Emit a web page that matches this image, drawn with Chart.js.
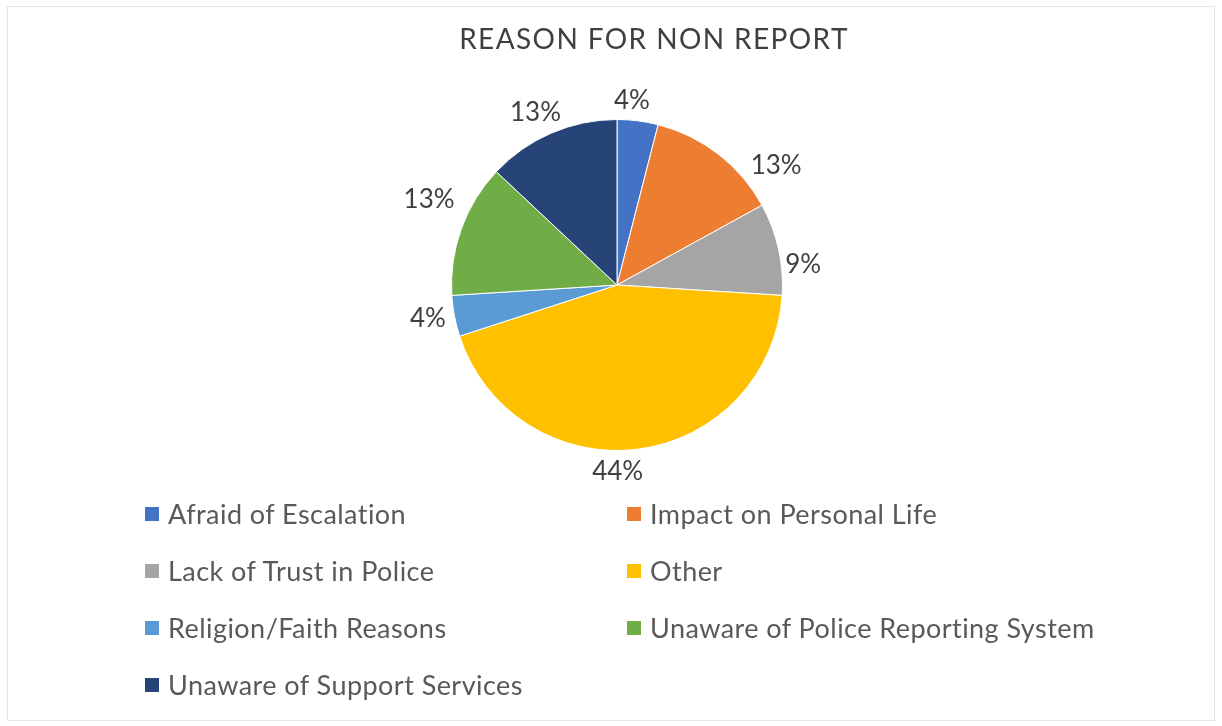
<!DOCTYPE html>
<html>
<head>
<meta charset="utf-8">
<title>Reason for non report</title>
<script src="https://cdn.jsdelivr.net/npm/chart.js@4.4.1/dist/chart.umd.min.js"></script>
<style>
	html, body { margin: 0; padding: 0; background: #fff; }
	#wrap { position: relative; width: 1222px; height: 726px; overflow: hidden; font-family: Lato, 'Open Sans', sans-serif; }
	#frame { position: absolute; left: 7px; top: 6px; width: 1206px; height: 713px; border: 1px solid #e6e6e6; }
	#reasonChart { position: absolute; left: 0; top: 0; }
	#title { position: absolute; left: 354px; width: 600px; top: 21px; text-align: center; font-size: 28px; color: #404040; letter-spacing: 1.4px; }
	#legend { position: absolute; left: 145px; top: 485px; display: grid; grid-template-columns: 482px 482px; grid-auto-rows: 57px; }
	#legend .item { display: flex; align-items: center; font-size: 27px; letter-spacing: 0.45px; color: #595959; white-space: nowrap; }
	#legend .box { width: 14px; height: 14px; margin-right: 9px; flex: none; }
</style>
</head>
<body>
<div id="wrap">
	<div id="frame"></div>
	<canvas id="reasonChart" width="1222" height="726"></canvas>
	<div id="title">REASON FOR NON REPORT</div>
	<div id="legend"></div>
</div>
<script>
;(function (window, document, undefined) {
	'use strict';

	// survey answers, share of respondents in percent
	let reasons = [
		'Afraid of Escalation',
		'Impact on Personal Life',
		'Lack of Trust in Police',
		'Other',
		'Religion/Faith Reasons',
		'Unaware of Police Reporting System',
		'Unaware of Support Services'
	];
	let shares = [4, 13, 9, 44, 4, 13, 13];
	let colours = ['#4472C4', '#ED7D31', '#A5A5A5', '#FFC000', '#5B9BD5', '#70AD47', '#264478'];

	// percentage text outside each slice
	let sliceLabels = {
		id: 'sliceLabels',
		afterDatasetsDraw: function (chart, args, opts) {
			let ctx	= chart.ctx;
			let meta	= chart.getDatasetMeta(0);

			ctx.save();
			ctx.font = opts.font;
			ctx.fillStyle = opts.color;
			ctx.textAlign = 'center';
			ctx.textBaseline = 'middle';

			meta.data.forEach(function (arc, i) {
				let p = arc.getProps(['x', 'y', 'startAngle', 'endAngle', 'outerRadius'], true);
				let a = (p.startAngle + p.endAngle) / 2 + (opts.spread[i] || 0) * Math.PI / 180;
				let text = shares[i] + '%';
				let w = ctx.measureText(text).width;
				let cos = Math.cos(a);
				let sin = Math.sin(a);
				let d = p.outerRadius + opts.gap[i] + Math.abs(cos) * w / 2 + Math.abs(sin) * opts.textHeight / 2;

				ctx.fillText(text, p.x + cos * d, p.y + sin * d + opts.shiftY);
			});

			ctx.restore();
		}
	};

	let ctx = document.getElementById('reasonChart').getContext('2d');

	let reasonChart = new Chart(ctx, {
		type: 'pie',
		data: {
			labels: reasons,
			datasets: [{
				data: shares,
				backgroundColor: colours,
				borderColor: '#ffffff',
				borderWidth: 1,
				hoverOffset: 0
			}]
		},
		options: {
			responsive: false,
			animation: false,
			layout: {
				padding: { left: 451, right: 439, top: 118, bottom: 274 }
			},
			plugins: {
				legend: { display: false },
				title: { display: false },
				tooltip: { enabled: false },
				sliceLabels: {
					font: '26px Lato, "Open Sans", sans-serif',
					color: '#404040',
					gap: [9, 8, 3, 10, 7, 14, 6],
					textHeight: 20,
					shiftY: 1,
					spread: [-2.6, 15, 6, 7, 1, 4.9, -1.8]
				}
			}
		},
		plugins: [sliceLabels]
	});

	// two-column legend under the pie
	let legend = document.getElementById('legend');
	reasons.forEach(function (name, i) {
		let item = document.createElement('div');
		let box = document.createElement('span');
		item.className = 'item';
		box.className = 'box';
		box.style.background = colours[i];
		item.appendChild(box);
		item.appendChild(document.createTextNode(name));
		legend.appendChild(item);
	});

})(window, document);
</script>
</body>
</html>
